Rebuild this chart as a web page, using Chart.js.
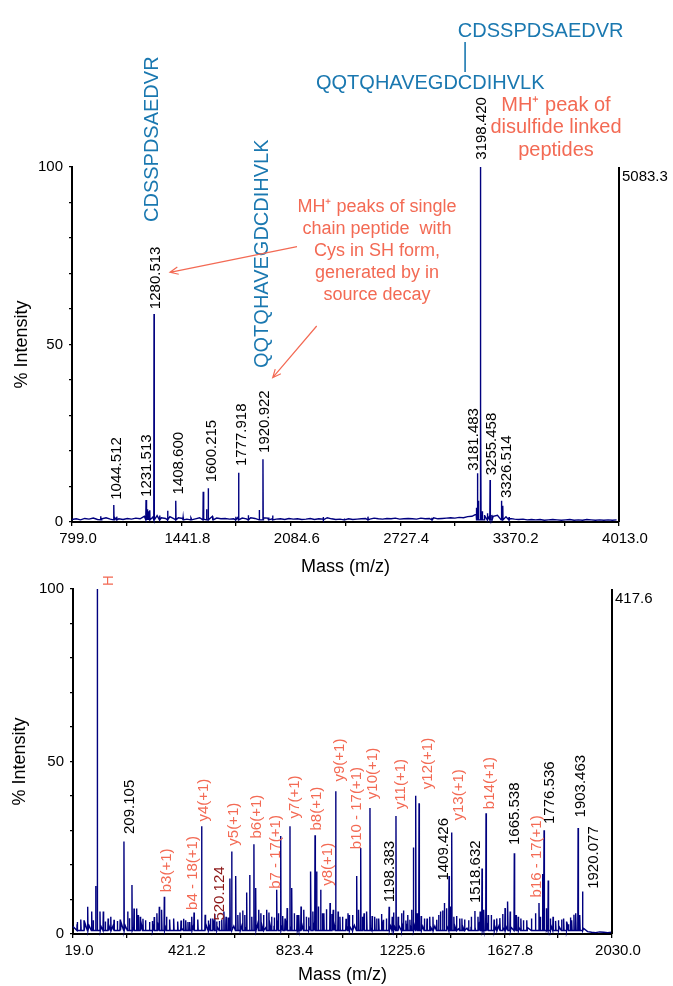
<!DOCTYPE html>
<html>
<head>
<meta charset="utf-8">
<script src="https://cdn.jsdelivr.net/npm/chart.js@4.4.1/dist/chart.umd.min.js"></script>
<style>
html, body { margin: 0; padding: 0; background: #fff; }
#wrap { position: relative; width: 673px; height: 986px; }
canvas { position: absolute; left: 0; top: 0; }
</style>
</head>
<body>
<div id="wrap">
  <canvas id="msTop" width="673" height="986"></canvas>
  <canvas id="msBottom" width="673" height="986"></canvas>
</div>
<script>
// ---- top spectrum (MS, disulfide linked peptides) ----
const topXLabels = ['799.0', '1441.8', '2084.6', '2727.4', '3370.2', '4013.0'];
const topNoiseStart = 799;
const topNoiseStep = 25;
const topNoise = [
  0.7, 0.9, 0.6, 1.0, 0.8, 1.1, 0.7, 0.9, 1.2,
  0.8, 1.3, 0.9, 0.7, 1.0, 0.8, 1.1, 0.9, 1.6, 2.0,
  1.4, 1.8, 1.2, 1.0, 1.5, 0.9, 1.2, 1.0, 0.8, 1.1,
  0.9, 1.2, 0.8, 1.4, 1.6, 1.1, 0.9, 1.0, 0.8, 0.9,
  1.3, 1.1, 0.9, 1.2, 1.0, 1.4, 1.2, 1.1, 0.9, 0.8,
  0.9, 0.7, 1.0, 0.8, 0.9, 0.7, 0.8, 1.0, 0.7, 0.9,
  0.8, 1.2, 0.9, 0.7, 0.8, 1.0, 0.9, 0.7, 0.8, 0.9,
  1.0, 0.8, 1.1, 0.9, 0.8, 1.0, 0.9, 1.1, 0.8, 0.9,
  1.0, 0.9, 0.8, 1.1, 0.9, 1.0, 1.2, 0.9, 1.0, 1.1,
  1.2, 1.1, 1.3, 1.2, 1.5, 1.6, 2.2, 3.0, 1.8, 1.4,
  1.6, 1.9, 1.3, 1.5, 1.0, 0.8, 0.7, 0.8, 0.6, 0.7,
  0.6, 0.7, 0.5, 0.6, 0.7, 0.6, 0.5, 0.6, 0.7, 0.5,
  0.6, 0.5, 0.7, 0.6, 0.5, 0.6, 0.5, 0.6, 0.5, 0.6
];
const topPeakMass = [968, 1044.5, 1062, 1234, 1240, 1246, 1256, 1281, 1314, 1361, 1408.6, 1452, 1498,
  1570, 1590, 1600.2, 1627, 1761, 1778, 1835, 1900, 1921, 1955, 1978, 2276, 2400, 2538, 2914,
  3176, 3181.5, 3187, 3198.4, 3201, 3210, 3222, 3240, 3255.5, 3266, 3322, 3330, 3367];
const topPeakHeight = [1.6, 4.8, 1.5, 6.2, 3.6, 3.0, 3.3, 58.6, 1.8, 3.2, 6.0, 1.3, 1.2,
  8.5, 3.6, 9.5, 1.5, 1.5, 13.9, 1.9, 3.4, 17.7, 1.3, 1.8, 1.4, 1.0, 1.5, 1.2,
  4, 13.7, 6, 100, 32, 3, 2, 2.5, 11.8, 2, 6, 4.6, 1.4];
const topLabelText = ['1044.512', '1231.513', '1280.513', '1408.600', '1600.215', '1777.918', '1920.922',
  '3198.420', '3181.483', '3255.458', '3326.514'];
const topLabelMass = [1062, 1241, 1291, 1424, 1620, 1796, 1933, 3206, 3161, 3268, 3352];
const topLabelBase = [5.7, 6.5, 59.4, 7.2, 10.6, 15.2, 18.9, 101.5, 13.9, 12.6, 6.2];

// ---- bottom spectrum (MS/MS) ----
const botXLabels = ['19.0', '421.2', '823.4', '1225.6', '1627.8', '2030.0'];
const botNoiseStart = 19;
const botNoiseStep = 15;
const botNoise = [
  2.2, 2.8, 2.0, 3.1, 2.4, 1.8, 2.6, 2.1, 3.0, 2.2,
  2.5, 1.9, 3.2, 2.4, 2.8, 1.7, 2.3, 2.9, 2.0, 2.6,
  2.1, 3.4, 2.6, 1.9, 2.7, 2.2, 3.0, 1.8, 2.5, 2.0,
  2.6, 1.9, 2.4, 3.1, 2.2, 2.8, 1.8, 3.3, 2.5, 2.9,
  2.3, 3.0, 2.4, 2.0, 2.7, 2.2, 3.2, 2.5, 1.9, 2.8,
  2.4, 3.1, 2.0, 2.6, 2.2, 2.9, 1.8, 2.5, 3.0, 2.1,
  2.7, 2.2, 3.3, 2.4, 1.9, 2.6, 2.1, 2.8, 2.3, 1.9,
  2.5, 2.1, 2.9, 2.2, 1.7, 2.4, 2.0, 2.6, 1.8, 2.3,
  2.0, 2.7, 2.2, 3.0, 1.9, 2.4, 1.8, 2.2, 2.6, 1.9,
  2.3, 2.8, 2.1, 2.5, 1.8, 2.2, 1.6, 2.0, 1.7, 2.1,
  1.8, 2.4, 1.9, 2.2, 1.6, 2.0, 2.5, 1.8, 2.3, 1.9,
  2.1, 1.7, 2.4, 1.9, 1.6, 2.2, 1.8, 2.0, 1.5, 2.1,
  1.7, 2.0, 1.6, 2.3, 1.8, 2.1, 1.9, 1.6, 0.7, 0.5,
  0.4, 0.6, 0.5, 0.4, 0.5
];
const botPeakMass = [60, 73.8, 88.7, 103.6, 110.1, 119.7, 132, 150, 172, 185, 209.1, 223, 239, 246.6, 256.6,
  270, 290, 305, 322, 341, 350, 359.7, 395, 422, 440, 455, 470.5, 499, 524, 540, 555, 574, 590,
  604.7, 611, 626, 642, 660, 667, 678, 694, 700.6, 720, 741.7, 760, 779, 794, 810, 828.6, 835, 855,
  869.7, 890, 906, 922, 928, 943, 955, 978, 990, 999, 1015, 1037.6, 1050, 1077.5, 1092.4, 1105,
  1127, 1145, 1160, 1177, 1198.4, 1210, 1224, 1245, 1261, 1276, 1289, 1297.6, 1310, 1330, 1350,
  1376, 1390, 1404.5, 1422, 1432, 1440, 1470, 1495, 1518.6, 1530, 1545, 1560, 1580, 1600, 1612,
  1631, 1641, 1665.5, 1680, 1700, 1730, 1757.6, 1771.5, 1776.5, 1792, 1810, 1830, 1850, 1867,
  1880, 1888, 1903.5, 1920.1];
const botPeakHeight = [4, 7.9, 6.5, 13.9, 100, 6.5, 6.5, 4.5, 4.1, 3.8, 26.8, 6.5, 14.2, 7.4, 7.4,
  5, 4, 3.5, 4.9, 7.9, 7, 10.8, 4.5, 3.9, 4, 3.5, 6.2, 31.2, 3.9, 4.5, 3.6, 4.1, 5,
  16.1, 23.9, 16.8, 6.2, 5.5, 12, 17.1, 26, 13.3, 6, 7, 5, 12.8, 28.4, 4.5, 31.2, 13.3, 5.5,
  8, 5, 18.1, 28.6, 18.1, 12.8, 6, 9, 7, 41.4, 5, 4.4, 5.5, 16.8, 24.9, 6,
  36.5, 5, 4.5, 4.1, 7.9, 5, 34.2, 6, 3.9, 4.1, 25.1, 40.1, 37.9, 4.5, 5,
  4.1, 6.5, 9, 16.8, 29.4, 5, 4.5, 4, 6.7, 5, 19, 35, 5.5, 4.5, 4.6,
  7.5, 9.4, 23.4, 5, 4, 4.5, 9, 17.4, 30.1, 15.5, 5, 4, 4.5, 2.8,
  4, 5.6, 30.7, 12.3];
// small fragment "grass" between the assigned ions
const botGrassMass = [35, 48, 95, 140, 160, 195, 230, 262, 280, 315, 332, 368, 380, 410, 432, 448, 462,
  485, 512, 532, 548, 565, 582, 598, 634, 652, 686, 712, 730, 750, 770, 786, 802, 818, 845, 862, 880,
  898, 914, 935, 950, 965, 985, 1008, 1025, 1045, 1062, 1085, 1100, 1115, 1135, 1152, 1170, 1188,
  1215, 1232, 1252, 1268, 1283, 1303, 1318, 1340, 1362, 1383, 1398, 1412, 1427, 1450, 1462, 1480,
  1505, 1538, 1552, 1568, 1590, 1622, 1650, 1672, 1690, 1712, 1745, 1762, 1785, 1800, 1820, 1842,
  1860, 1875, 1895, 1910];
const botGrassHeight = [3.5, 4.2, 4, 3.6, 5, 4.2, 4.6, 5.5, 4.4, 3.8, 6, 5, 4.2, 3.6, 4.4, 3.5, 5,
  4.2, 5.6, 4.5, 5.8, 3.8, 6.5, 4.8, 5.5, 6.8, 5, 7, 5.5, 6.2, 4.8, 6, 5.2, 7.5, 6, 5.5, 7,
  4.8, 6.5, 8, 6, 7.2, 5.8, 6.5, 5, 6, 5.5, 7, 5, 6.5, 5.2, 4.5, 5.8, 4.5,
  6.2, 5, 6.8, 5.5, 7, 6, 5.2, 4.5, 5, 5.5, 6.8, 7.5, 8, 5.2, 4.5, 4.2,
  5, 6.5, 7, 5.5, 4.2, 5.8, 6.5, 5.5, 4.5, 4, 6, 5, 7.5, 4.5, 3.8, 4.2,
  3.6, 4.8, 6, 5.5];
const botLabelText = ['H', '209.105', 'b3(+1)', 'b4 - 18(+1)', '520.124', 'y4(+1)', 'y5(+1)', 'b6(+1)',
  'b7 - 17(+1)', 'y7(+1)', 'b8(+1)', 'y8(+1)', 'y9(+1)', 'b10 - 17(+1)', 'y10(+1)', '1198.383',
  'y11(+1)', 'y12(+1)', '1409.426', 'y13(+1)', '1518.632', 'b14(+1)', '1665.538', 'b16 - 17(+1)',
  '1776.536', '1903.463', '1920.077'];
const botLabelMass = [153, 231.7, 371, 468, 567.5, 506.6, 618.5, 706.8, 777.6, 847.3, 930.5, 969.2,
  1015, 1077.5, 1138, 1203, 1241.5, 1344.7, 1403.2, 1458, 1523.8, 1574.8, 1669.3, 1749, 1798.7,
  1913, 1961.7];
const botLabelBase = [100.6, 28.7, 11.8, 6.7, 3.6, 32.3, 25.3, 27.4, 12.8, 33.2, 29.7, 13.7, 43.9,
  24.3, 38.8, 8.9, 35.9, 41.7, 15.2, 32.6, 8.7, 35.9, 25.5, 10.3, 31.6, 33.5, 12.8];
const botLabelKind = ['ion', 'mass', 'ion', 'ion', 'dark', 'ion', 'ion', 'ion', 'ion', 'ion', 'ion',
  'ion', 'ion', 'ion', 'ion', 'mass', 'ion', 'ion', 'mass', 'ion', 'mass', 'ion', 'mass', 'ion',
  'mass', 'mass', 'mass'];

const FONT = "'Liberation Sans', Arial, sans-serif";
const SPEC = '#00007f';
const SALMON = '#f36a54';
const BLUE = '#1a78b0';
const kindColor = { ion: SALMON, mass: '#000', dark: '#8b1414' };

Chart.defaults.font.family = FONT;
Chart.defaults.color = '#000';

function buildTrace(start, step, noise, peaks, hw, base) {
  const pts = noise.map((v, i) => ({ x: start + i * step, y: v }));
  peaks.forEach(([mass, height]) => {
    mass.forEach((m, i) => {
      pts.push({ x: m - hw, y: base }, { x: m, y: height[i] }, { x: m + hw, y: base });
    });
  });
  pts.sort((a, b) => a.x - b.x);
  return pts;
}

function vText(ctx, text, x, y, color, font) {
  ctx.save();
  ctx.translate(x, y);
  ctx.rotate(-Math.PI / 2);
  ctx.fillStyle = color;
  ctx.font = font;
  ctx.textAlign = 'left';
  ctx.textBaseline = 'middle';
  ctx.fillText(text, 0, 0);
  ctx.restore();
}

function arrow(ctx, x1, y1, x2, y2) {
  const a = Math.atan2(y2 - y1, x2 - x1);
  const L = 9, s = 0.42;
  ctx.beginPath();
  ctx.moveTo(x1, y1);
  ctx.lineTo(x2, y2);
  ctx.moveTo(x2 - L * Math.cos(a - s), y2 - L * Math.sin(a - s));
  ctx.lineTo(x2, y2);
  ctx.lineTo(x2 - L * Math.cos(a + s), y2 - L * Math.sin(a + s));
  ctx.stroke();
}

function rightAxis(chart, label) {
  const { ctx, chartArea: a } = chart;
  ctx.save();
  ctx.strokeStyle = '#000';
  ctx.lineWidth = 2;
  ctx.beginPath();
  ctx.moveTo(a.right, a.top);
  ctx.lineTo(a.right, a.bottom);
  ctx.stroke();
  ctx.fillStyle = '#000';
  ctx.font = '15px ' + FONT;
  ctx.textAlign = 'left';
  ctx.textBaseline = 'middle';
  ctx.fillText(label, a.right + 3, a.top + 10);
  ctx.restore();
}

function makeOptions(labels, pad, xh, yw, ytitlePad, xtitlePad) {
  const major = labels.map(Number);
  const ticks = [];
  major.forEach((v, i) => {
    ticks.push({ value: v });
    if (i < major.length - 1) ticks.push({ value: (v + major[i + 1]) / 2 });
  });
  return {
    responsive: false,
    animation: false,
    events: [],
    layout: { padding: pad },
    plugins: { legend: { display: false }, tooltip: { enabled: false } },
    scales: {
      x: {
        type: 'linear', min: major[0], max: major[major.length - 1],
        afterFit: s => { s.height = xh; },
        afterBuildTicks: s => { s.ticks = ticks.map(t => ({ value: t.value })); },
        border: { display: true, color: '#000', width: 2 },
        grid: { drawOnChartArea: false, drawTicks: true, tickLength: 4, color: '#000', lineWidth: 1.3 },
        ticks: {
          autoSkip: false, maxRotation: 0, minRotation: 0, padding: 4, labelOffset: 6,
          font: { size: 15 }, color: '#000',
          callback: v => {
            const k = major.findIndex(m => Math.abs(m - v) < 0.01);
            return k < 0 ? '' : labels[k];
          }
        },
        title: { display: true, text: 'Mass (m/z)', color: '#000', font: { size: 18 }, padding: { top: 0, bottom: xtitlePad } }
      },
      y: {
        min: 0, max: 100,
        afterFit: s => { s.width = yw; },
        border: { display: true, color: '#000', width: 2 },
        grid: { drawOnChartArea: false, drawTicks: true, tickLength: 3, color: '#000', lineWidth: 1.3 },
        ticks: {
          stepSize: 10, autoSkip: false, padding: 6, font: { size: 15 }, color: '#000',
          callback: v => (v % 50 === 0 ? String(v) : '')
        },
        title: { display: true, text: '% Intensity', color: '#000', font: { size: 18 }, padding: { top: ytitlePad } }
      }
    }
  };
}

// top chart
new Chart(document.getElementById('msTop'), {
  type: 'line',
  data: {
    datasets: [{
      data: buildTrace(topNoiseStart, topNoiseStep, topNoise, [[topPeakMass, topPeakHeight]], 1.5, 0.6),
      borderColor: SPEC, borderWidth: 1.4, pointRadius: 0, tension: 0, fill: false, clip: 4
    }]
  },
  options: makeOptions(topXLabels, { top: 167, right: 54, bottom: 404, left: 0 }, 60, 72, 11, 4),
  plugins: [{
    id: 'topNotes',
    afterDraw(chart) {
      const { ctx, scales: { x, y } } = chart;
      rightAxis(chart, '5083.3');
      topLabelText.forEach((t, i) => {
        vText(ctx, t, x.getPixelForValue(topLabelMass[i]), y.getPixelForValue(topLabelBase[i]) - 2, '#000', '15px ' + FONT);
      });
      // peptide sequences
      ctx.save();
      ctx.font = '20px ' + FONT;
      ctx.fillStyle = BLUE;
      ctx.textBaseline = 'middle';
      ctx.textAlign = 'left';
      const bLeft = 316;
      const cx = bLeft + ctx.measureText('QQTQHAVEGD').width + ctx.measureText('C').width / 2;
      ctx.fillText('QQTQHAVEGDCDIHVLK', bLeft, 83);
      ctx.fillText('CDSSPDSAEDVR', cx - ctx.measureText('C').width / 2, 31);
      ctx.strokeStyle = BLUE;
      ctx.lineWidth = 1.6;
      ctx.beginPath();
      ctx.moveTo(cx, 42);
      ctx.lineTo(cx, 72);
      ctx.stroke();
      ctx.restore();
      vText(ctx, 'CDSSPDSAEDVR', 152.5, 222, BLUE, '20px ' + FONT);
      vText(ctx, 'QQTQHAVEGDCDIHVLK', 262.5, 368, BLUE, '20px ' + FONT);
      // notes
      ctx.save();
      ctx.fillStyle = SALMON;
      ctx.textAlign = 'center';
      ctx.textBaseline = 'middle';
      ctx.font = '20px ' + FONT;
      ['MH\u207A peak of', 'disulfide linked', 'peptides'].forEach((s, i) => ctx.fillText(s, 556, 105 + i * 22.5));
      ctx.font = '18px ' + FONT;
      ['MH\u207A peaks of single', 'chain peptide  with', 'Cys in SH form,', 'generated by in', 'source decay']
        .forEach((s, i) => ctx.fillText(s, 377, 207 + i * 22));
      ctx.strokeStyle = SALMON;
      ctx.lineWidth = 1.2;
      arrow(ctx, 297, 246.7, 170, 272.3);
      arrow(ctx, 316.7, 326, 272.7, 377.7);
      ctx.restore();
    }
  }]
});

// bottom chart
new Chart(document.getElementById('msBottom'), {
  type: 'line',
  data: {
    datasets: [{
      data: buildTrace(botNoiseStart, botNoiseStep, botNoise,
        [[botPeakMass, botPeakHeight], [botGrassMass, botGrassHeight]], 1.2, 1.0),
      borderColor: SPEC, borderWidth: 1.4, pointRadius: 0, tension: 0, fill: false, clip: 4
    }]
  },
  options: makeOptions(botXLabels, { top: 589, right: 61, bottom: 0, left: 0 }, 52, 73, 9, 0),
  plugins: [{
    id: 'botNotes',
    afterDraw(chart) {
      const { ctx, scales: { x, y } } = chart;
      rightAxis(chart, '417.6');
      botLabelText.forEach((t, i) => {
        vText(ctx, t, x.getPixelForValue(botLabelMass[i]), y.getPixelForValue(botLabelBase[i]) - 1,
          kindColor[botLabelKind[i]], '15px ' + FONT);
      });
    }
  }]
});
</script>
</body>
</html>
